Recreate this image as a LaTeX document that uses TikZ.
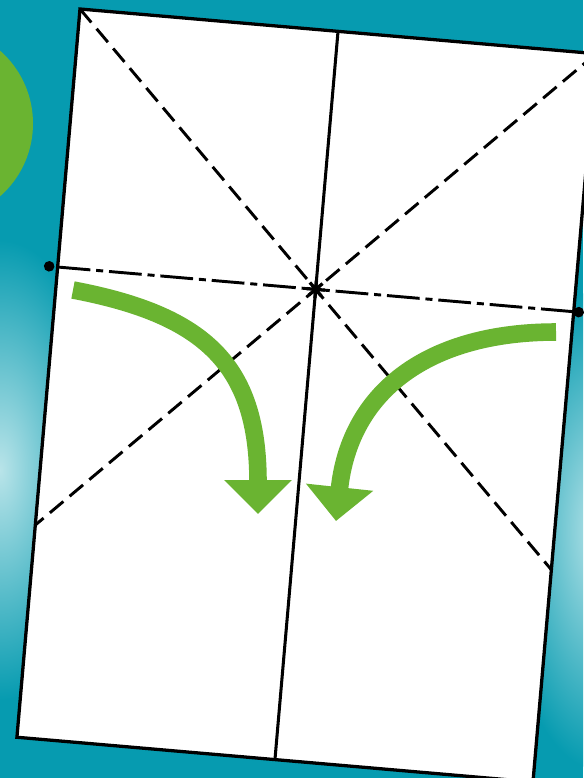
\documentclass[tikz,border=0pt]{standalone}
\usepackage{xcolor}
\usetikzlibrary{arrows.meta}
\definecolor{seateal}{RGB}{6,155,176}
\definecolor{cloudwhite}{RGB}{185,228,233}
\definecolor{foldgreen}{RGB}{106,180,49}
\tikzset{
  paperedge/.style={draw=black, line width=2.8pt, line join=miter},
  foldline/.style={black, line width=2.6pt},
  diagfold/.style={black, line width=2.5pt, dash pattern=on 15pt off 7pt},
  midfold/.style={black, line width=2.5pt, dash pattern=on 28pt off 5pt on 6pt off 5pt},
  turnarrow/.style={foldgreen, line width=15pt, -{Triangle[width=56pt,length=29pt]}},
  pin/.style={fill=black},
  skypatch/.style={inner color=cloudwhite, outer color=seateal}
}
\begin{document}
\begin{tikzpicture}[x=0.03cm,y=-0.03cm]
  \useasboundingbox (0,0) rectangle (583,778);
  % background
  \begin{scope}
    \clip (0,0) rectangle (583,778);
    \fill[seateal] (0,0) rectangle (583,778);
    \shade[skypatch] (0,470) ellipse (110 and 230);
    \shade[skypatch] (600,530) ellipse (100 and 240);
    \fill[foldgreen] (-64,123.5) circle (97);
  \end{scope}
  % sheet
  \begin{scope}[shift={(80,9)}, rotate=-4.95]
    \coordinate (tl) at (0,0);
    \coordinate (tr) at (518,0);
    \coordinate (br) at (518,731);
    \coordinate (bl) at (0,731);
    \coordinate (topmid) at (259,0);
    \coordinate (botmid) at (259,731);
    \coordinate (lmid) at (0,259);
    \coordinate (rmid) at (518,259);
    \coordinate (lsq) at (0,518);
    \coordinate (rsq) at (518,518);
    \coordinate (centre) at (259,259);
    \coordinate (lpin) at (-8.5,259);
    \coordinate (rpin) at (523,259);
    \fill[white] (tl) -- (tr) -- (br) -- (bl) -- cycle;
    \draw[diagfold] (tl) -- (rsq);
    \draw[diagfold] (tr) -- (lsq);
    \draw[midfold] (lmid) -- (centre);
    \draw[midfold] (rmid) -- (centre);
    \draw[foldline] (topmid) -- (botmid);
    \foreach \a in {0,45,...,315}
      \draw[line width=2.8pt] (centre) -- ++(\a:9);
    \fill (centre) circle (4.5);
    \draw[paperedge] (tl) -- (tr) -- (br) -- (bl) -- cycle;
    \fill[pin] (lpin) circle (5.3);
    \fill[pin] (rpin) circle (5.3);
  \end{scope}
  % arrows
  \coordinate (lstart) at (73,290);
  \coordinate (ltip) at (258,514);
  \coordinate (rstart) at (556,332);
  \coordinate (rtip) at (336,521);
  \draw[turnarrow] (lstart) .. controls (205,315) and (258,365) .. (ltip);
  \draw[turnarrow] (rstart) .. controls (430,332) and (350,390) .. (rtip);
\end{tikzpicture}
\end{document}
